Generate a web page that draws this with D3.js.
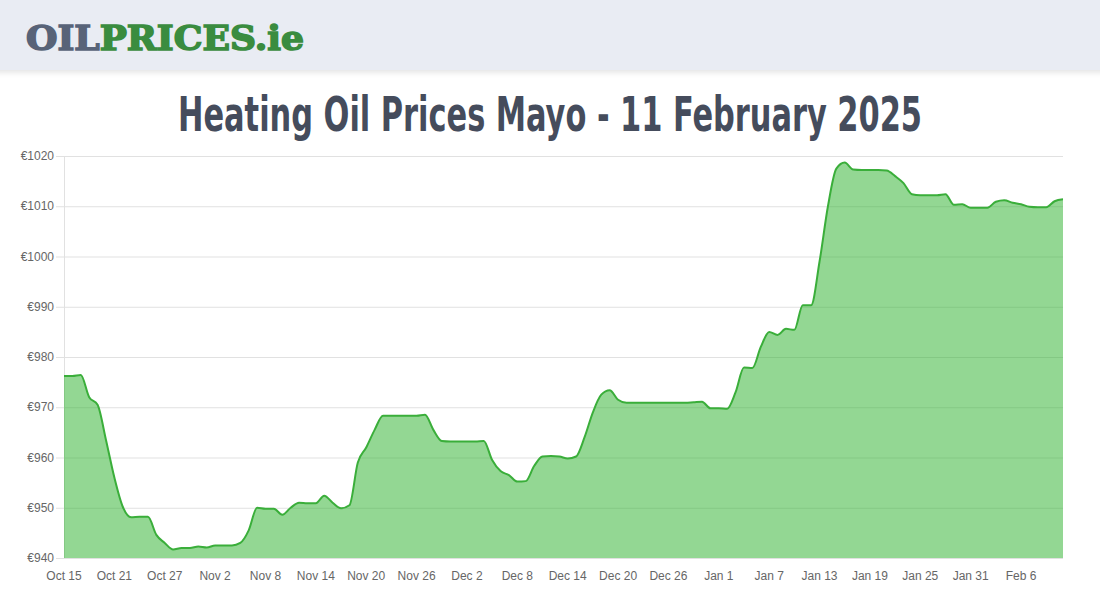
<!DOCTYPE html>
<html><head><meta charset="utf-8">
<script src="https://cdn.jsdelivr.net/npm/d3@7"></script>
<style>
html,body{margin:0;padding:0;background:#fff;}
svg{display:block;}
</style></head>
<body>
<svg id="chart" width="1100" height="600"></svg>
<script>
// ---- data ----
const startDate = "2024-10-15";
const prices = [
 976.2,976.2,976.4,972.0,970.5,963.5,956.0,950.2,948.1,948.2,
 948.2,944.6,943.0,941.7,942.0,942.0,942.3,942.1,942.5,942.5,
 942.5,943.0,945.5,950.0,949.8,949.8,948.6,950.0,951.0,950.9,
 950.9,952.4,951.0,949.9,950.5,959.0,962.0,965.5,968.3,968.3,
 968.3,968.3,968.3,968.5,965.5,963.3,963.2,963.2,963.2,963.2,
 963.3,959.5,957.3,956.5,955.2,955.3,958.3,960.2,960.3,960.2,
 959.8,960.2,964.0,969.0,972.5,973.4,971.5,970.9,970.9,970.9,
 970.9,970.9,970.9,970.9,970.9,971.0,971.1,969.8,969.8,969.7,
 973.0,977.9,977.8,982.0,985.0,984.4,985.6,985.4,990.3,990.3,
 999.0,1010.0,1017.5,1018.7,1017.3,1017.2,1017.2,1017.2,1017.1,1016.0,
 1014.6,1012.4,1012.2,1012.2,1012.2,1012.4,1010.3,1010.4,1009.7,1009.7,
 1009.7,1010.9,1011.2,1010.7,1010.4,1009.9,1009.8,1009.8,1011.0,1011.4
];
const yTicks = [940,950,960,970,980,990,1000,1010,1020];
const xTickEvery = 6;
const titleText = "Heating Oil Prices Mayo - 11 February 2025";

// ---- build ----
(function(){
const parse = d3.utcParse("%Y-%m-%d");
const d0 = parse(startDate);
const data = prices.map((v,i)=>({date:d3.utcDay.offset(d0,i), v}));
const labels = data.map(d=>d3.utcFormat("%b %-d")(d.date));

const svg = d3.select("#chart");
const defs = svg.append("defs");
const f = defs.append("filter").attr("id","sh").attr("x","-5%").attr("y","-50%").attr("width","110%").attr("height","200%");
f.append("feDropShadow").attr("dx",0).attr("dy",2).attr("stdDeviation",3).attr("flood-color","#000").attr("flood-opacity",0.12);

// header
svg.append("rect").attr("x",-10).attr("y",-10).attr("width",1120).attr("height",80)
  .attr("fill","#e9ecf3").attr("filter","url(#sh)");
const logo = svg.append("text").attr("x",26).attr("y",50)
  .style("font-family","'DejaVu Serif',serif").style("font-weight","bold").style("font-size","34px")
  .attr("textLength",278).attr("lengthAdjust","spacingAndGlyphs");
logo.append("tspan").attr("fill","#586378").attr("stroke","#586378").attr("stroke-width",1.6).text("OIL");
logo.append("tspan").attr("fill","#3a8c3f").attr("stroke","#3a8c3f").attr("stroke-width",1.6).text("PRICES.ie");

// title
svg.append("text").attr("transform","translate(550,131) scale(1,1.2)").attr("text-anchor","middle")
  .style("font-family","'DejaVu Sans Condensed','DejaVu Sans',sans-serif").style("font-weight","bold")
  .style("font-size","40px").attr("fill","#454c5c")
  .attr("textLength",744).attr("lengthAdjust","spacingAndGlyphs")
  .text(titleText);

// scales
const pl=64, pr=1063, pt=156, pb=558;
const x = d3.scalePoint().domain(labels).range([pl,pr]);
const y = d3.scaleLinear().domain([940,1020]).range([pb,pt]);

const g = svg.append("g");
g.selectAll("line.grid").data(yTicks).join("line")
  .attr("x1",pl-8).attr("x2",pr).attr("y1",d=>y(d)+0.5).attr("y2",d=>y(d)+0.5)
  .attr("stroke","#e1e1e1").attr("stroke-width",1);
g.append("line").attr("x1",pl+0.5).attr("x2",pl+0.5).attr("y1",pt).attr("y2",pb)
  .attr("stroke","#e1e1e1");

g.selectAll("text.yl").data(yTicks).join("text")
  .attr("x",pl-10).attr("y",d=>y(d)+4).attr("text-anchor","end")
  .style("font-family","'Liberation Sans',Arial,sans-serif").style("font-size","12px").attr("fill","#666")
  .text(d=>"€"+d);

const xt = labels.filter((d,i)=>i%xTickEvery===0);
g.selectAll("text.xl").data(xt).join("text")
  .attr("x",d=>x(d)).attr("y",580).attr("text-anchor","middle")
  .style("font-family","'Liberation Sans',Arial,sans-serif").style("font-size","12px").attr("fill","#666")
  .text(d=>d);

const curve = d3.curveMonotoneX;
const area = d3.area().x((d,i)=>x(labels[i])).y0(y(940)).y1(d=>y(d.v)).curve(curve);
const line = d3.line().x((d,i)=>x(labels[i])).y(d=>y(d.v)).curve(curve);
g.append("path").datum(data).attr("d",area).attr("fill","rgba(40,176,40,0.5)");
g.append("path").datum(data).attr("d",line).attr("fill","none").attr("stroke","#3aae3a").attr("stroke-width",2);
})();
</script>
</body></html>
